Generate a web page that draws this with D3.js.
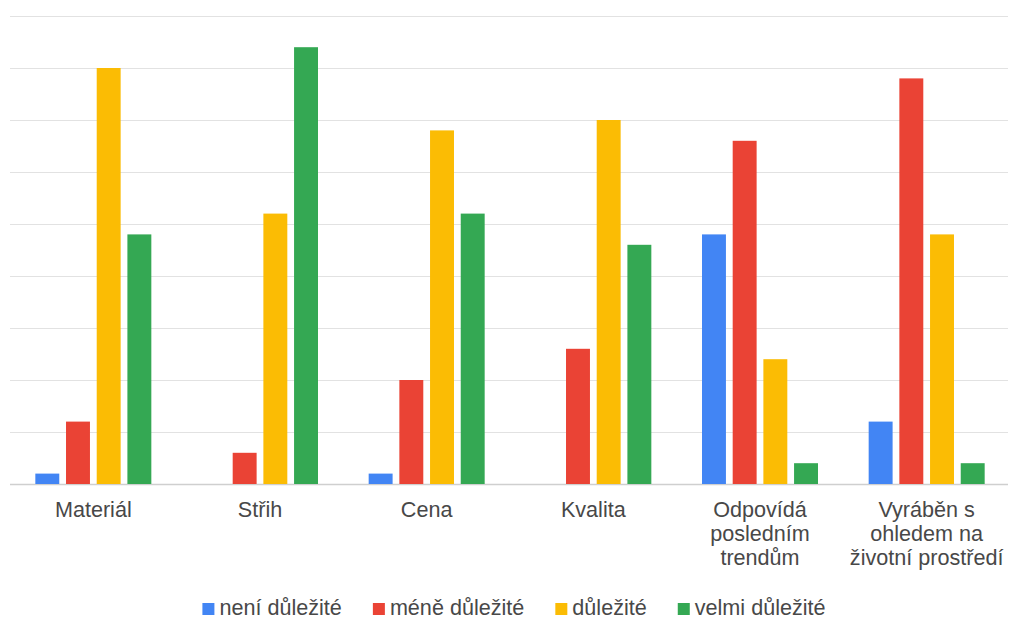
<!DOCTYPE html>
<html>
<head>
<meta charset="utf-8">
<script src="https://cdn.jsdelivr.net/npm/d3@7"></script>
<style>
  html, body { margin: 0; padding: 0; background: #fff; }
  svg { display: block; font-family: "Liberation Sans", Arial, sans-serif; }
</style>
</head>
<body>
<svg id="chart" width="1009" height="619"></svg>
<script>
// Survey answers: how important each aspect is when choosing clothing
const categories = ["Materiál", "Střih", "Cena", "Kvalita", "Odpovídá posledním trendům", "Vyráběn s ohledem na životní prostředí"];
const seriesNames = ["není důležité", "méně důležité", "důležité", "velmi důležité"];
const seriesColors = ["#4285F4", "#EA4335", "#FBBC04", "#34A853"];

const notImportant  = [1, 0, 1, 0, 24, 6];
const lessImportant = [6, 3, 10, 13, 33, 39];
const important     = [40, 26, 34, 35, 12, 24];
const veryImportant = [24, 42, 26, 23, 2, 2];

const gridTicks = [0, 5, 10, 15, 20, 25, 30, 35, 40, 45];

const series = [notImportant, lessImportant, important, veryImportant];

const svg = d3.select("#chart");
const plotLeft = 10, plotRight = 1008, plotTop = 16, baseline = 484;

const x0 = d3.scaleBand()
  .domain(categories)
  .range([plotLeft, 1010])
  .paddingInner(0.304)
  .paddingOuter(0.152);

const x1 = d3.scaleBand()
  .domain(d3.range(seriesNames.length))
  .range([0, x0.bandwidth()])
  .paddingInner(0.22)
  .paddingOuter(0);

const y = d3.scaleLinear()
  .domain([0, d3.max(gridTicks)])
  .range([baseline, plotTop]);

// horizontal gridlines
svg.append("g")
  .selectAll("line")
  .data(gridTicks)
  .join("line")
  .attr("x1", plotLeft)
  .attr("x2", plotRight)
  .attr("y1", d => Math.round(y(d)) + 0.5)
  .attr("y2", d => Math.round(y(d)) + 0.5)
  .attr("stroke", d => d === 0 ? "#cfcfcf" : "#e2e2e2")
  .attr("stroke-width", d => d === 0 ? 1.5 : 1.2);

// grouped bars
const groups = svg.append("g")
  .selectAll("g")
  .data(categories)
  .join("g")
  .attr("transform", d => `translate(${x0(d)},0)`);

groups.selectAll("rect")
  .data((c, ci) => series.map((s, si) => ({ si, v: s[ci] })).filter(d => d.v > 0))
  .join("rect")
  .attr("x", d => x1(d.si))
  .attr("width", x1.bandwidth())
  .attr("y", d => y(d.v))
  .attr("height", d => baseline - y(d.v))
  .attr("fill", d => seriesColors[d.si]);

// category labels, wrapped to the band width
const labelSize = 21.6;
const lineHeight = 24;
const xLabels = svg.append("g")
  .selectAll("text")
  .data(categories)
  .join("text")
  .attr("x", d => x0(d) + x0.bandwidth() / 2)
  .attr("y", 517)
  .attr("text-anchor", "middle")
  .attr("font-size", labelSize)
  .attr("fill", "#484848");

xLabels.each(function (d) {
  const text = d3.select(this);
  const words = d.split(" ");
  const maxW = 162;
  let line = [];
  let tspan = text.append("tspan").attr("x", text.attr("x")).attr("dy", 0);
  words.forEach(w => {
    line.push(w);
    tspan.text(line.join(" "));
    if (tspan.node().getComputedTextLength() > maxW && line.length > 1) {
      line.pop();
      tspan.text(line.join(" "));
      line = [w];
      tspan = text.append("tspan").attr("x", text.attr("x")).attr("dy", lineHeight).text(w);
    }
  });
});

// legend, centred below the chart
const legend = svg.append("g").attr("font-size", labelSize).attr("fill", "#484848");
const items = legend.selectAll("g")
  .data(seriesNames)
  .join("g");
items.append("rect")
  .attr("width", 12)
  .attr("height", 12)
  .attr("y", 603)
  .attr("fill", (d, i) => seriesColors[i]);
items.append("text")
  .attr("x", 17)
  .attr("y", 615)
  .text(d => d);

const offsets = [];
let cursor = 0;
const gap = 31;
items.each(function () {
  offsets.push(cursor);
  const w = d3.select(this).select("text").node().getComputedTextLength();
  cursor += 17 + w + gap;
});
const totalW = cursor - gap;
const startX = 514 - totalW / 2;
items.attr("transform", (d, i) => `translate(${startX + offsets[i]},0)`);
</script>
</body>
</html>
